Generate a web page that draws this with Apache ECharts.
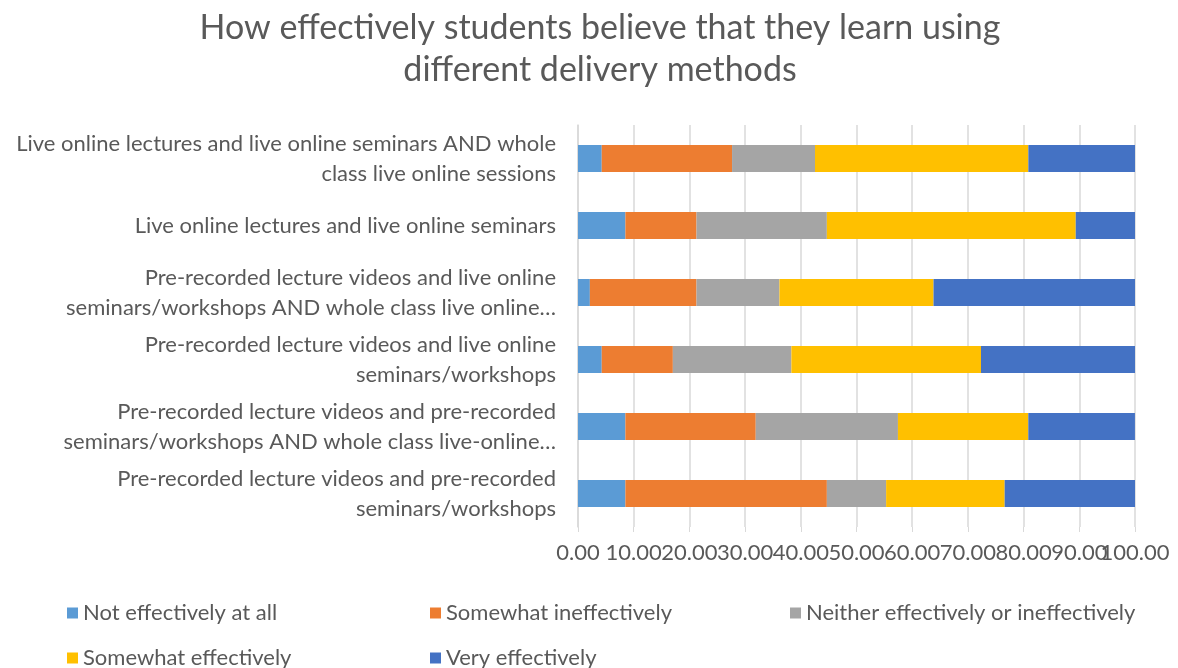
<!DOCTYPE html>
<html>
<head>
<meta charset="utf-8">
<script src="https://cdn.jsdelivr.net/npm/echarts@6/dist/echarts.min.js"></script>
<style>
  html, body { margin: 0; padding: 0; background: #fff; }
  #chart { width: 1178px; height: 668px; }
</style>
</head>
<body>
<div id="chart"></div>
<script>
  // categories, top to bottom
  var categories = [
    'Live online lectures and live online seminars AND whole\nclass live online sessions',
    'Live online lectures and live online seminars',
    'Pre-recorded lecture videos and live online\nseminars/workshops AND whole class live online…',
    'Pre-recorded lecture videos and live online\nseminars/workshops',
    'Pre-recorded lecture videos and pre-recorded\nseminars/workshops AND whole class live-online…',
    'Pre-recorded lecture videos and pre-recorded\nseminars/workshops'
  ]

  var seriesNames = [
    'Not effectively at all',
    'Somewhat ineffectively',
    'Neither effectively or ineffectively',
    'Somewhat effectively',
    'Very effectively'
  ]

  var notEffectively = [4.26, 8.51, 2.13, 4.26, 8.51, 8.51]
  var somewhatIneffectively = [23.40, 12.77, 19.15, 12.77, 23.40, 36.17]
  var neither = [14.89, 23.40, 14.89, 21.28, 25.53, 10.64]
  var somewhatEffectively = [38.30, 44.68, 27.66, 34.04, 23.40, 21.28]
  var veryEffectively = [19.15, 10.64, 36.17, 27.66, 19.15, 23.40]

  var xMin = 0
  var xMax = 100
  var xStep = 10

  var colors = ['#5B9BD5', '#ED7D31', '#A5A5A5', '#FFC000', '#4472C4']
  var seriesData = [notEffectively, somewhatIneffectively, neither, somewhatEffectively, veryEffectively]

  var textColor = '#595959'
  var fontFamily = 'Lato, "Liberation Sans", sans-serif'

  var chart = echarts.init(document.getElementById('chart'))

  // legend laid out in columns like the original
  var legendPos = [
    { left: 62, top: 597 },
    { left: 425, top: 597 },
    { left: 785, top: 597 },
    { left: 62, top: 642 },
    { left: 425, top: 642 }
  ]

  var legends = seriesNames.map(function (name, i) {
    return {
      data: [name],
      left: legendPos[i].left,
      top: legendPos[i].top,
      itemWidth: 11,
      itemHeight: 11,
      itemGap: 4,
      icon: 'rect',
      textStyle: { color: textColor, fontSize: 22, fontFamily: fontFamily }
    }
  })

  var labelStyle = {
    color: textColor,
    fontSize: 22,
    fontFamily: fontFamily,
    margin: 15,
    hideOverlap: false
  }

  // the last tick label overlaps its neighbour in the original, so it is drawn
  // by a second axis to keep echarts from dropping one of them
  chart.setOption({
    animation: false,
    color: colors,
    title: {
      text: 'How effectively students believe that they learn using\ndifferent delivery methods',
      left: 595,
      top: 2,
      textAlign: 'center',
      textStyle: {
        color: textColor,
        fontSize: 34,
        fontWeight: 'normal',
        fontFamily: fontFamily,
        lineHeight: 42
      }
    },
    legend: legends,
    grid: {
      left: 578,
      right: 43,
      top: 125,
      bottom: 141
    },
    xAxis: [
      {
        type: 'value',
        min: xMin,
        max: xMax,
        interval: xStep,
        axisLine: { show: false },
        axisTick: { show: true, length: 5, lineStyle: { color: '#d9d9d9' } },
        splitLine: { show: true, lineStyle: { color: '#d9d9d9', width: 1.5 } },
        axisLabel: Object.assign({}, labelStyle, {
          formatter: function (v) { return v === xMax ? '' : v.toFixed(2) }
        })
      },
      {
        type: 'value',
        position: 'bottom',
        min: xMin,
        max: xMax,
        interval: xStep,
        axisLine: { show: false },
        axisTick: { show: false },
        splitLine: { show: false },
        axisLabel: Object.assign({}, labelStyle, {
          formatter: function (v) { return v === xMax ? v.toFixed(2) : '' }
        })
      }
    ],
    yAxis: {
      type: 'category',
      inverse: true,
      data: categories,
      axisLine: { show: true, lineStyle: { color: '#d9d9d9', width: 1.5 } },
      axisTick: { show: false },
      axisLabel: {
        color: textColor,
        fontSize: 22,
        fontFamily: fontFamily,
        lineHeight: 30,
        margin: 22,
        align: 'right'
      }
    },
    series: seriesData.map(function (d, i) {
      return {
        name: seriesNames[i],
        type: 'bar',
        stack: 'total',
        xAxisIndex: 0,
        barWidth: 27,
        data: d,
        itemStyle: { color: colors[i] }
      }
    })
  })
</script>
</body>
</html>
